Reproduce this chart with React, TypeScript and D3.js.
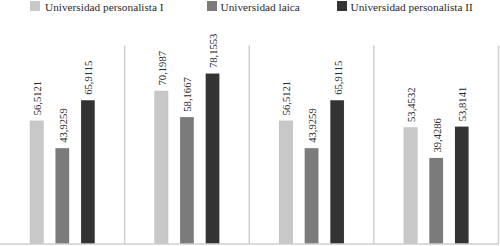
import React from "react";
import * as d3 from "d3";

const groups = ["G1", "G2", "G3", "G4"];
const seriesNames = ["Universidad personalista I", "Universidad laica", "Universidad personalista II"];
const serieA = [56.5121, 70.1987, 56.5121, 53.4532];
const serieB = [43.9259, 58.1667, 43.9259, 39.4286];
const serieC = [65.9115, 78.1553, 65.9115, 53.8141];
const labelsA = ["56,5121", "70,1987", "56,5121", "53,4532"];
const labelsB = ["43,9259", "58,1667", "43,9259", "39,4286"];
const labelsC = ["65,9115", "78,1553", "65,9115", "53,8141"];
const colors = ["#c8c8c8", "#7b7b7b", "#333333"];

const W = 500;
const H = 246;
const FONT = "'Liberation Serif', 'Times New Roman', serif";

export default function App() {
  const values = [serieA, serieB, serieC];
  const labels = [labelsA, labelsB, labelsC];
  const x0 = d3.scaleBand<string>().domain(groups).range([0, 498.5]).paddingInner(0).paddingOuter(0);
  const x1 = d3
    .scaleBand<string>()
    .domain(seriesNames)
    .range([0, x0.bandwidth()])
    .paddingInner(0.47)
    .paddingOuter(1.17);
  const y = d3.scaleLinear().domain([0, 91]).range([244, 45.6]);
  const legendX = [30, 207, 337];

  return (
    <svg
      width={W}
      height={H}
      style={{ position: "absolute", left: 0, top: 0, background: "#fff" }}
      fontFamily={FONT}
    >
      {groups.slice(1).map((g) => (
        <line key={g} x1={x0(g)!} x2={x0(g)!} y1={y(91)} y2={y(0)} stroke="#d0d0d0" strokeWidth={1.5} />
      ))}
      <line x1={498.5} x2={498.5} y1={y(91)} y2={y(0)} stroke="#d0d0d0" strokeWidth={1.5} />
      {groups.map((g, gi) => (
        <g key={g} transform={`translate(${x0(g)},0)`}>
          {seriesNames.map((s, si) => {
            const v = values[si][gi];
            const bx = x1(s)!;
            const bw = x1.bandwidth();
            const cx = bx + bw / 2;
            return (
              <g key={s}>
                <rect x={bx} y={y(v)} width={bw} height={y(0) - y(v)} fill={colors[si]} stroke="#00000022" strokeWidth={0.5} />
                <text
                  transform={`translate(${cx + 0.8},${y(v) - 5.5}) rotate(-90)`}
                  dy="0.35em"
                  fontSize={10.6}
                  fill="#2a2a2a"
                  textAnchor="start"
                >
                  {labels[si][gi]}
                </text>
              </g>
            );
          })}
        </g>
      ))}
      <line x1={0} x2={499} y1={244} y2={244} stroke="#cfcfcf" strokeWidth={1.5} />
      {seriesNames.map((s, i) => (
        <g key={s} transform={`translate(${legendX[i]},1)`}>
          <rect x={0} y={0} width={10} height={10} fill={colors[i]} />
          <text x={i === 0 ? 15 : 13.5} y={9.5} fontSize={11.3} fill="#2a2a2a">
            {s}
          </text>
        </g>
      ))}
    </svg>
  );
}
